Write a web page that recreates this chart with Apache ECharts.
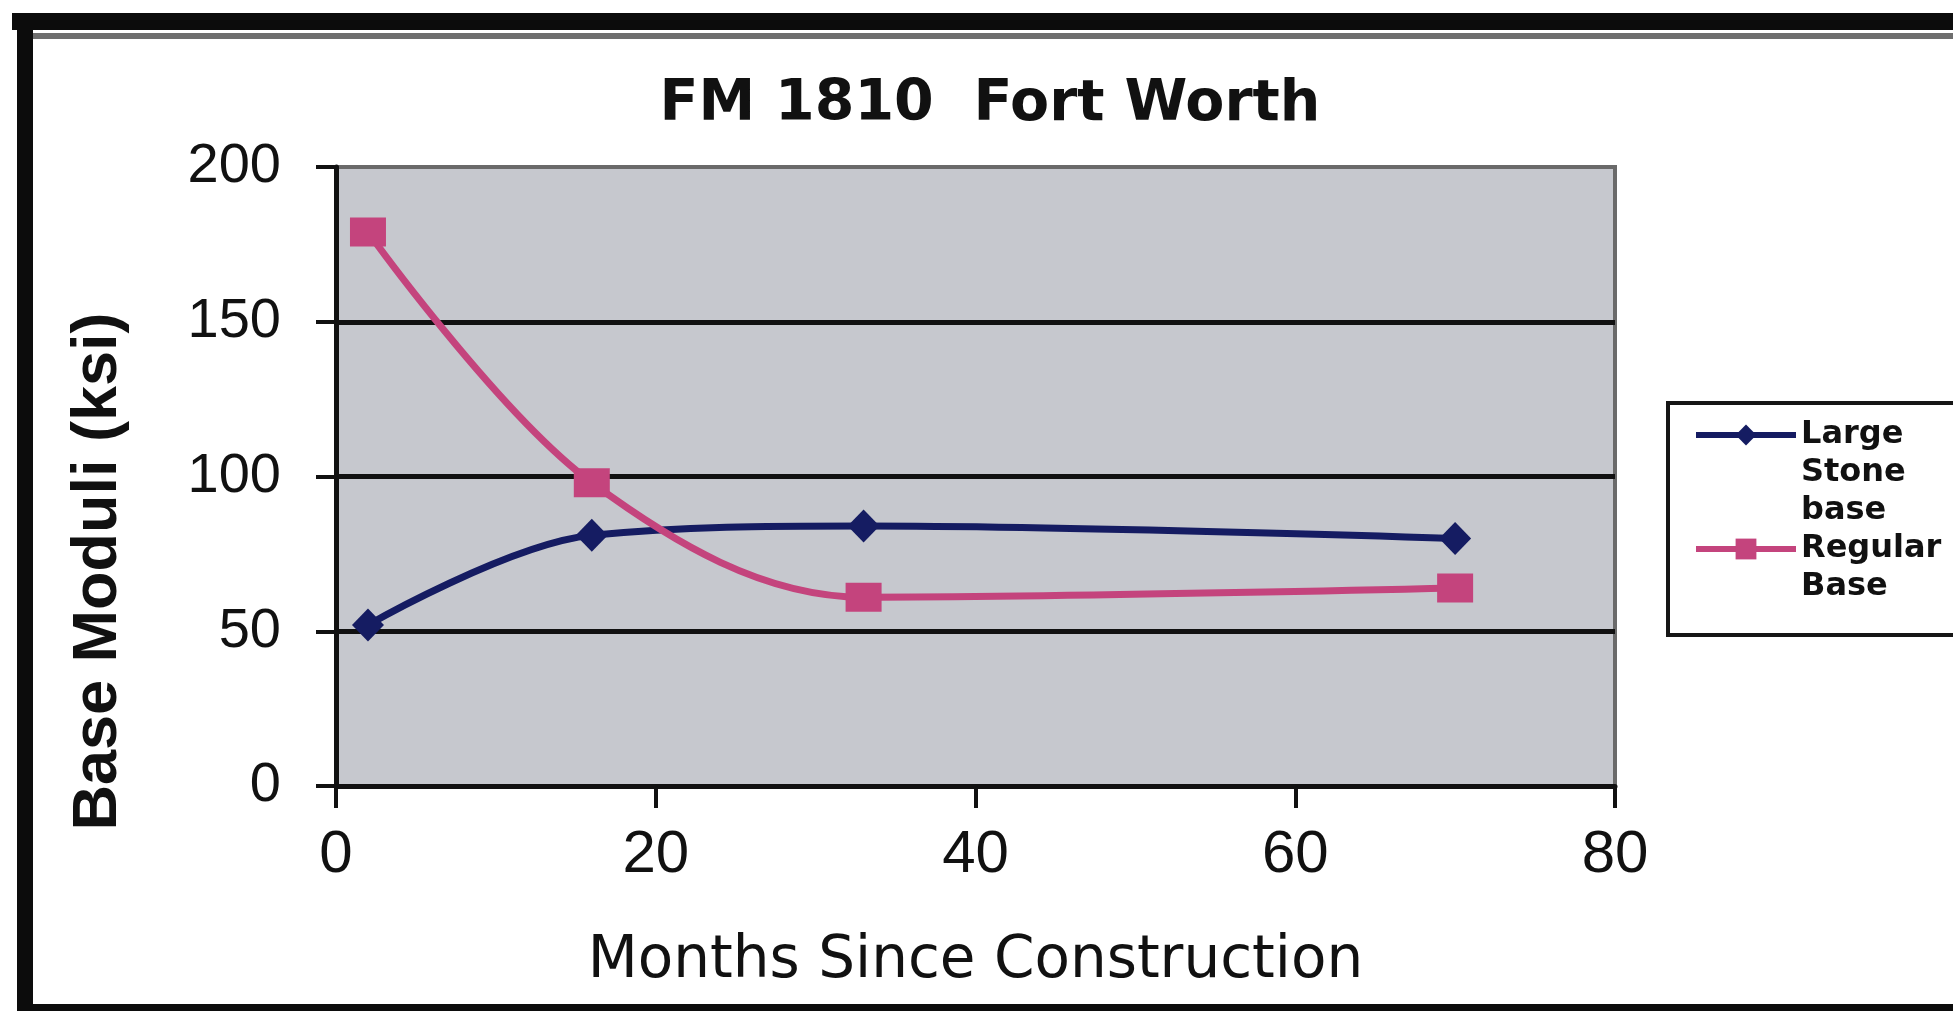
<!DOCTYPE html>
<html>
<head>
<meta charset="utf-8">
<title>FM 1810 Fort Worth</title>
<script src="https://cdn.jsdelivr.net/npm/echarts@6/dist/echarts.min.js"></script>
<style>
  html, body { margin: 0; padding: 0; background: #fff; }
  #chart { width: 1953px; height: 1011px; }
</style>
</head>
<body>
<div id="chart"></div>
<script>
'use strict';

// data
var months = [2, 16, 33, 70];
var largeStoneBase = [52, 81, 84, 80];
var regularBase = [179, 98, 61, 64];
var seriesNames = ['Large Stone base', 'Regular Base'];
// legend text is wrapped the way the old excel chart did it
var legendLines = {
    'Large Stone base': ['Large', 'Stone', 'base'],
    'Regular Base': ['Regular', 'Base']
};
var xMin = 0, xMax = 80, xStep = 20;
var yMin = 0, yMax = 200, yStep = 50;

var LEGEND_LH = 38;

function pairs(xs, ys) {
    return xs.map(function (x, i) { return [x, ys[i]]; });
}

var myChart = echarts.init(document.getElementById('chart'));

var option = {
    backgroundColor: '#ffffff',
    animation: false,
    title: {
        text: 'FM 1810  Fort Worth',
        left: 990,
        top: 77,
        padding: 0,
        textAlign: 'center',
        textStyle: {
            fontFamily: 'DejaVu Sans',
            fontWeight: 'bold',
            fontSize: 57,
            color: '#111'
        }
    },
    legend: {
        orient: 'vertical',
        left: 1693,
        top: 340,
        padding: 0,
        itemGap: -LEGEND_LH,
        itemWidth: 100,
        itemHeight: 26,
        selectedMode: false,
        z: 5,
        data: seriesNames,
        lineStyle: { width: 6 },
        formatter: function (name) {
            var lines = legendLines[name];
            var pad = [];
            for (var i = 1; i < lines.length; i++) pad.push('');
            // blank lines on top so the icon sits on the first line
            return pad.concat(lines).join('\n');
        },
        textStyle: {
            fontFamily: 'DejaVu Sans',
            fontWeight: 'bold',
            fontSize: 32,
            lineHeight: LEGEND_LH,
            color: '#111'
        }
    },
    grid: {
        left: 336,
        right: 338,
        top: 167,
        bottom: 225,
        show: true,
        backgroundColor: '#c6c8ce',
        borderColor: '#6a6a6a',
        borderWidth: 4
    },
    xAxis: {
        type: 'value',
        min: xMin,
        max: xMax,
        interval: xStep,
        name: 'Months Since Construction',
        nameLocation: 'middle',
        nameGap: 147,
        nameTextStyle: {
            fontFamily: 'DejaVu Sans',
            fontSize: 58,
            color: '#111'
        },
        axisLine: { show: true, onZero: false, lineStyle: { color: '#111', width: 5 } },
        axisTick: { show: true, inside: false, length: 22, lineStyle: { color: '#111', width: 4 } },
        axisLabel: {
            margin: 39,
            fontFamily: 'Liberation Sans',
            fontSize: 60,
            color: '#111'
        },
        splitLine: { show: false }
    },
    yAxis: {
        type: 'value',
        min: yMin,
        max: yMax,
        interval: yStep,
        name: 'Base Moduli (ksi)',
        nameLocation: 'middle',
        nameGap: 206,
        nameTextStyle: {
            fontFamily: 'Liberation Sans',
            fontWeight: 'bold',
            fontSize: 63,
            color: '#111',
            // excel centred the title on the whole chart, not the plot
            padding: [0, 190, 0, 0]
        },
        axisLine: { show: true, lineStyle: { color: '#111', width: 5 } },
        axisTick: { show: true, inside: false, length: 20, lineStyle: { color: '#111', width: 4 } },
        axisLabel: {
            margin: 55,
            fontFamily: 'Liberation Sans',
            fontSize: 56,
            color: '#111'
        },
        splitLine: {
            show: true,
            showMinLine: false,
            showMaxLine: false,
            lineStyle: { color: '#111', width: 5 }
        }
    },
    series: [
        {
            name: seriesNames[0],
            type: 'line',
            smooth: 0.35,
            data: pairs(months, largeStoneBase),
            symbol: 'diamond',
            symbolSize: [32, 33],
            color: '#151c62',
            lineStyle: { width: 7, color: '#151c62' },
            itemStyle: { color: '#151c62' },
            z: 3
        },
        {
            name: seriesNames[1],
            type: 'line',
            smooth: 0.35,
            data: pairs(months, regularBase),
            symbol: 'rect',
            symbolSize: [36, 29],
            color: '#c4447d',
            lineStyle: { width: 7, color: '#c4447d' },
            itemStyle: { color: '#c4447d' },
            z: 4
        }
    ],
    graphic: [
        // legend box
        { type: 'rect', z: 1, shape: { x: 1668, y: 403, width: 320, height: 232 },
          style: { fill: '#fff', stroke: '#161616', lineWidth: 4 } },
        // scanned page frame
        { type: 'rect', z: 1, shape: { x: 12, y: 13, width: 1941, height: 17 }, style: { fill: '#0c0c0c' } },
        { type: 'rect', z: 1, shape: { x: 33, y: 33, width: 1920, height: 6 }, style: { fill: '#6e6e6e' } },
        { type: 'rect', z: 1, shape: { x: 17, y: 13, width: 16, height: 998 }, style: { fill: '#0c0c0c' } },
        { type: 'rect', z: 1, shape: { x: 17, y: 1004, width: 1936, height: 7 }, style: { fill: '#0c0c0c' } }
    ]
};

myChart.setOption(option);
window.onresize = myChart.resize;
</script>
</body>
</html>
